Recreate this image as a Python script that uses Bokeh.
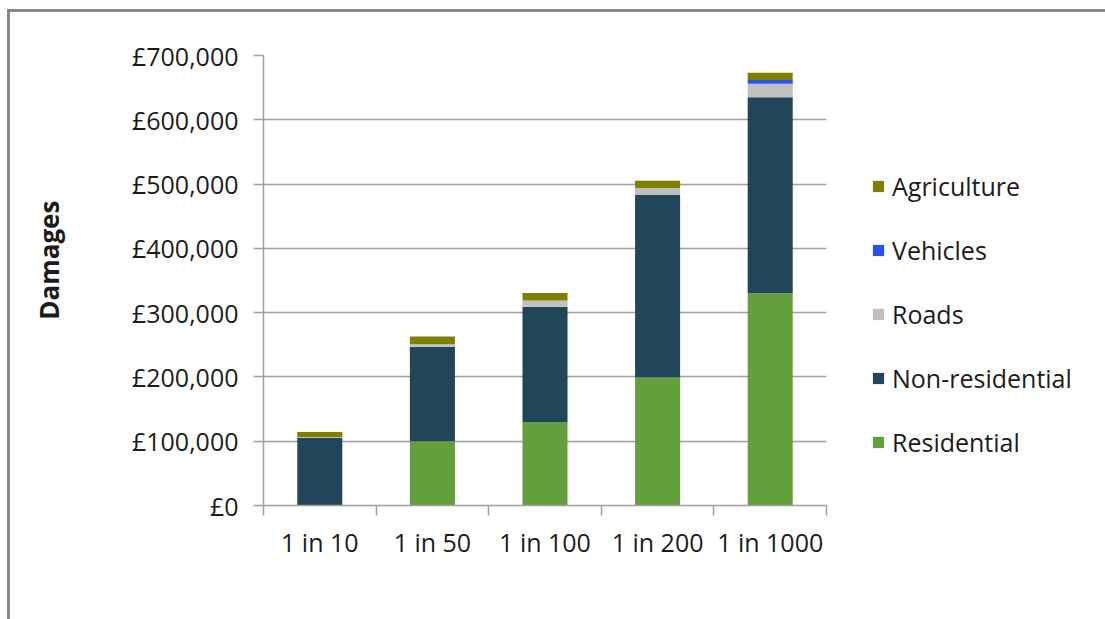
from bokeh.plotting import figure
from bokeh.models import (ColumnDataSource, Range1d, FixedTicker, Legend, LegendItem)
from bokeh.embed import file_html
from bokeh.resources import INLINE

categories = ["1 in 10", "1 in 50", "1 in 100", "1 in 200", "1 in 1000"]
residential = [0, 100000, 130000, 199000, 330000]
non_residential = [105000, 147000, 179000, 284000, 305000]
roads = [1500, 4000, 10000, 11000, 21000]
vehicles = [0, 0, 0, 0, 6000]
agriculture = [8000, 12000, 11500, 11000, 11000]

series_names = ["Residential", "Non-residential", "Roads", "Vehicles", "Agriculture"]
series_keys = ["residential", "non_residential", "roads", "vehicles", "agriculture"]
colors = ["#63A03D", "#214559", "#C0C0C0", "#2B50F0", "#808000"]

y_ticks = [0, 100000, 200000, 300000, 400000, 500000, 600000, 700000]
y_tick_labels = ["£0", "£100,000", "£200,000", "£300,000", "£400,000",
                 "£500,000", "£600,000", "£700,000"]
y_title = "Damages"

FONT = "Open Sans"
TXT = "#1c1c1c"
GRID = "#a0a0a0"

x_pos = [i + 0.5 for i in range(len(categories))]
source = ColumnDataSource(dict(
    x=x_pos,
    residential=residential,
    non_residential=non_residential,
    roads=roads,
    vehicles=vehicles,
    agriculture=agriculture,
))

p = figure(frame_width=563, frame_height=450, output_backend="svg", toolbar_location=None,
           x_range=Range1d(0, len(categories)), y_range=Range1d(0, 700000),
           min_border_left=253, min_border_top=43, min_border_right=280,
           min_border_bottom=115)
p.styles = {"border-top": "3px solid #888888", "border-left": "3px solid #888888",
            "margin-left": "7px", "margin-top": "9px"}
p.outline_line_color = None
p.xgrid.grid_line_color = None
p.ygrid.grid_line_color = GRID
p.ygrid.grid_line_width = 1.5

renderers = p.vbar_stack(series_keys, x="x", width=0.4, color=colors,
                         line_color=None, source=source)

# y axis
p.yaxis.ticker = FixedTicker(ticks=y_ticks, minor_ticks=[])
p.yaxis.major_label_overrides = {t: l for t, l in zip(y_ticks, y_tick_labels)}
p.yaxis.major_tick_out = 10
p.yaxis.major_tick_in = 0
p.yaxis.minor_tick_line_color = None
p.yaxis.major_label_standoff = 15
# non-breaking spaces lift the centred title towards where the reference has it
p.yaxis.axis_label = "\u00a0" * 6 + y_title
p.yaxis.axis_label_standoff = 62
p.yaxis.axis_label_text_font = FONT
p.yaxis.axis_label_text_font_size = "26px"
p.yaxis.axis_label_text_font_style = "bold"
p.yaxis.axis_label_text_color = TXT
# x axis
p.xaxis.ticker = FixedTicker(ticks=x_pos, minor_ticks=list(range(len(categories) + 1)))
p.xaxis.major_label_overrides = {x: c for x, c in zip(x_pos, categories)}
p.xaxis.minor_tick_out = 10
p.xaxis.minor_tick_in = 0
p.xaxis.minor_tick_line_color = GRID
p.xaxis.minor_tick_line_width = 1.5
p.xaxis.major_label_standoff = 9

for ax in (p.xaxis, p.yaxis):
    ax.axis_line_color = GRID
    ax.axis_line_width = 1.5
    ax.major_tick_line_width = 1.5
    ax.major_label_text_font = FONT
    ax.major_label_text_font_size = "25px"
    ax.major_label_text_color = TXT
p.yaxis.major_tick_line_color = GRID
p.xaxis.major_tick_line_color = None

items = [LegendItem(label=n, renderers=[r]) for n, r in zip(series_names, renderers)]
items.reverse()
legend = Legend(items=items, location=(45, 46), orientation="vertical",
                glyph_width=14, glyph_height=14, label_standoff=7, spacing=30,
                padding=0, margin=0, border_line_color=None,
                background_fill_alpha=0, label_text_font=FONT,
                label_text_font_size="25px", label_text_color=TXT)
p.add_layout(legend, "right")

open("out.html", "w").write(file_html(p, INLINE))
